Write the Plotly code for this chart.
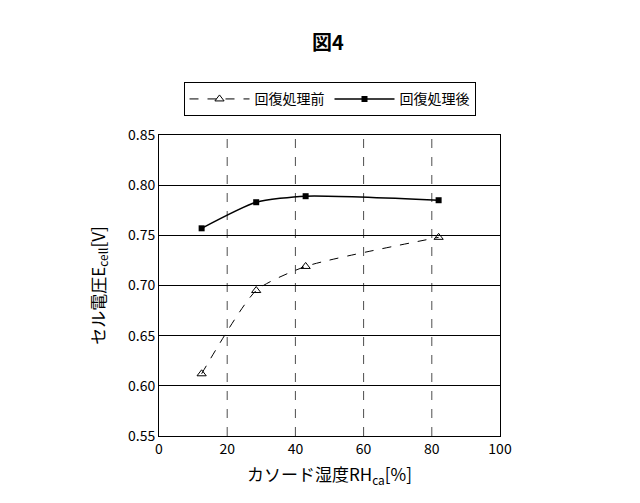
import plotly.graph_objects as go

rh = [12.5, 28.5, 43, 82]
before = [0.612, 0.695, 0.719, 0.748]
after = [0.757, 0.783, 0.789, 0.785]
x_ticks = [0, 20, 40, 60, 80, 100]

font = "Noto Sans CJK JP"
fig = go.Figure()
fig.add_trace(go.Scatter(x=rh, y=before, name="回復処理前", mode="lines+markers",
                         line=dict(color="black", width=1, dash="dash", shape="spline", smoothing=0.6),
                         marker=dict(symbol="triangle-up-open", size=8, color="black")))
fig.add_trace(go.Scatter(x=rh, y=after, name="回復処理後", mode="lines+markers",
                         line=dict(color="black", width=1.5, shape="spline", smoothing=0.6),
                         marker=dict(symbol="square", size=6, color="black")))

# vertical dashed grid lines
for v in [20, 40, 60, 80]:
    fig.add_shape(type="line", xref="x", yref="paper", x0=v, x1=v, y0=0, y1=1,
                  line=dict(color="black", width=0.7, dash="dash"), layer="below")

fig.update_layout(
    width=640, height=503, paper_bgcolor="white", plot_bgcolor="white",
    font=dict(family=font, color="black", size=14),
    title=dict(text="<b>図4</b>", x=0.5, y=0.93, yref="container", yanchor="middle",
               xanchor="center", font=dict(size=20)),
    margin=dict(l=151, r=148, t=127, b=75, autoexpand=False),
    legend=dict(orientation="h", x=0.5, y=1.175, xanchor="center", yanchor="top",
                bordercolor="black", borderwidth=1, font=dict(size=14),
                itemwidth=60, tracegroupgap=30),
    showlegend=True,
)
fig.update_xaxes(range=[0, 100], tickvals=x_ticks, showgrid=False, showline=True,
                 linecolor="black", mirror=True, ticks="", zeroline=False,
                 title=dict(text="カソード湿度RH<sub>ca</sub>[%]", standoff=12))
fig.update_yaxes(range=[0.55, 0.85], dtick=0.05, tickformat=".2f", showgrid=True,
                 gridcolor="black", gridwidth=0.7, showline=True, linecolor="black",
                 mirror=True, ticks="", zeroline=False,
                 title=dict(text="セル電圧E<sub>cell</sub>[V]", standoff=18))
fig.write_html("out.html")
